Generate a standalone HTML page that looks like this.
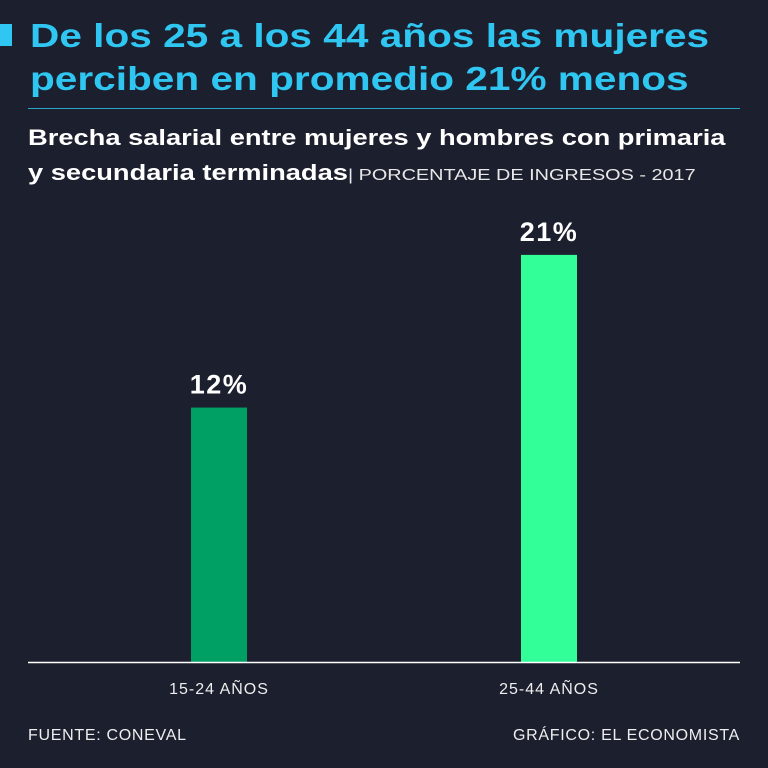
<!DOCTYPE html>
<html><head><meta charset="utf-8"><style>
body{margin:0;width:768px;height:768px;background:#1c1f2e;overflow:hidden;font-family:"Liberation Sans",sans-serif;position:relative}
.t{position:absolute;left:30px;top:14px;color:#2fc6f2;font-weight:bold;font-size:33px;line-height:43px;white-space:nowrap;transform:scaleX(1.23);transform-origin:0 0}
.sq{position:absolute;left:0;top:24px;width:12px;height:22px;background:#2fc6f2}
.sep{position:absolute;left:28px;top:108px;width:712px;height:1px;background:#2fc6f2;opacity:.8}
.st{position:absolute;left:28px;top:120px;color:#fff;font-weight:bold;font-size:22px;line-height:35px;white-space:nowrap;transform:scaleX(1.24);transform-origin:0 0}
.st span{font-weight:normal;font-size:16px;color:#e8e8e8}
.f{position:absolute;top:727px;color:#eee;font-size:16px;letter-spacing:0.7px}
</style></head><body>
<div class="sq"></div>
<div class="t">De los 25 a los 44 años las mujeres<br>perciben en promedio 21% menos</div>
<div class="sep"></div>
<div class="st">Brecha salarial entre mujeres y hombres con primaria<br>y secundaria terminadas<span>| PORCENTAJE DE INGRESOS - 2017</span></div>
<svg id="c" width="768" height="768" style="position:absolute;left:0;top:0"></svg>
<div class="f" style="left:28px">FUENTE: CONEVAL</div>
<div class="f" style="right:28px">GRÁFICO: EL ECONOMISTA</div>
<script>
const categories=["15-24 AÑOS","25-44 AÑOS"];
const values=[12,21];
const valueLabels=["12%","21%"];
const colors=["#00a064","#33ff99"];
const svg=document.getElementById('c');
const NS="http://www.w3.org/2000/svg";
const base=662, dMin=-3, dMax=24, top0=204;
function y(v){return base-(v-dMin)/(dMax-dMin)*(base-top0);}
function x(i){return 219+i*330;}
const bw=56;
values.forEach((v,i)=>{
 const r=document.createElementNS(NS,'rect');
 r.setAttribute('x',x(i)-bw/2);r.setAttribute('y',y(v));r.setAttribute('width',bw);r.setAttribute('height',base-y(v));r.setAttribute('fill',colors[i]);
 
 
 svg.appendChild(r);
 const t=document.createElementNS(NS,'text');
 t.setAttribute('x',x(i));t.setAttribute('y',y(v)-14);t.setAttribute('text-anchor','middle');t.setAttribute('fill','#fff');t.setAttribute('font-size','27');t.setAttribute('font-weight','bold');t.setAttribute('letter-spacing','1.5');t.setAttribute('font-family','Liberation Sans, sans-serif');
 t.textContent=valueLabels[i];
 
 
 svg.appendChild(t);
 const c=document.createElementNS(NS,'text');
 c.setAttribute('x',x(i));c.setAttribute('y',694);c.setAttribute('text-anchor','middle');c.setAttribute('fill','#eee');c.setAttribute('font-size','16');c.setAttribute('letter-spacing','1');c.setAttribute('font-family','Liberation Sans, sans-serif');
 c.textContent=categories[i];
 
 
 svg.appendChild(c);
});
const l=document.createElementNS(NS,'line');
l.setAttribute('x1',28);l.setAttribute('x2',740);l.setAttribute('y1',base+0.5);l.setAttribute('y2',base+0.5);l.setAttribute('stroke','#fff');l.setAttribute('stroke-width','1.5');


svg.appendChild(l);
</script>
</body></html>
